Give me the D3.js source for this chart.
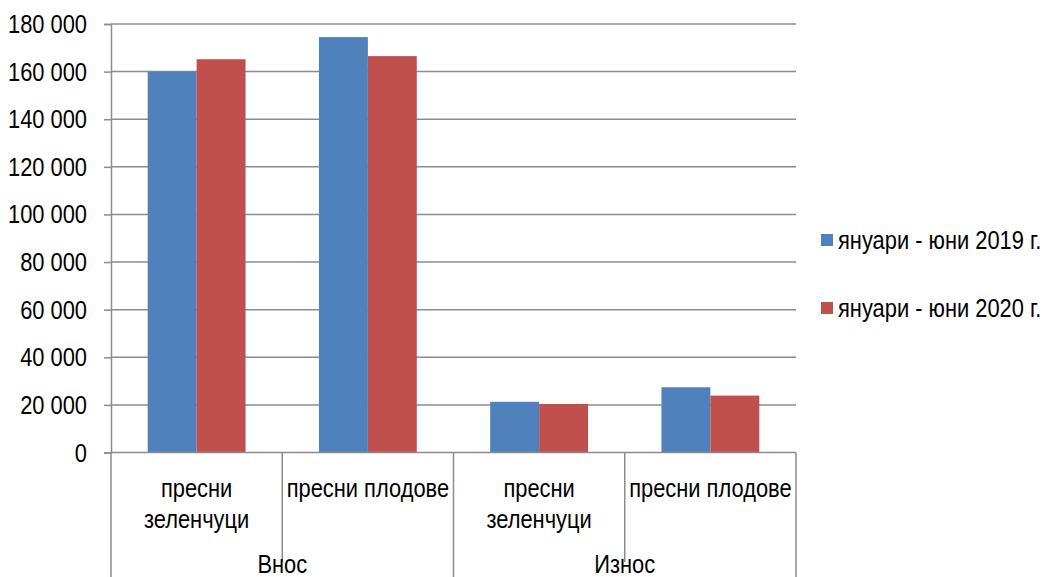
<!DOCTYPE html>
<html><head><meta charset="utf-8">
<script src="https://cdn.jsdelivr.net/npm/d3@7"></script>
<style>body{margin:0;background:#fff}svg{display:block}text{font-family:"Liberation Sans Narrow","Arial Narrow","Liberation Sans",Arial,sans-serif;fill:#000}</style>
</head><body>
<svg id="c" width="1047" height="577"></svg>
<script>
const groups = ["Внос","Износ"];
const categories = [["Внос","пресни зеленчуци"],["Внос","пресни плодове"],["Износ","пресни зеленчуци"],["Износ","пресни плодове"]];
const seriesNames = ["януари - юни 2019 г.","януари - юни 2020 г."];
const s2019 = [160000,174500,21300,27400];
const s2020 = [165200,166500,20400,23900];
const yTicks = [0,20000,40000,60000,80000,100000,120000,140000,160000,180000];
const colors = ["#4f81bd","#c0504d"];

const svg = d3.select("#c");
const L=111,R=796,T=24,B=452.5;
const FS = 25, SX = 0.875;
const x = d3.scaleBand().domain(d3.range(categories.length)).range([L,R]);
const y = d3.scaleLinear().domain([0,180000]).range([B,T]);
const fmt = v => d3.format(",")(v).replace(/,/g," ");

function label(px,py,txt,anchor){
  return svg.append("text").attr("transform",`translate(${px},${py}) scale(${SX},1)`)
    .attr("text-anchor",anchor||"middle").style("font-size",FS+"px").text(txt);
}

// gridlines
svg.append("g").selectAll("line").data(yTicks.filter(d=>d>0)).join("line")
  .attr("x1",L).attr("x2",R).attr("y1",d=>y(d)).attr("y2",d=>y(d))
  .attr("stroke","#8c8c8c").attr("stroke-width",1.5);

// y axis
const ya = svg.append("g").attr("transform",`translate(${L},0)`)
  .call(d3.axisLeft(y).tickValues(yTicks).tickFormat("").tickSize(7));
ya.select(".domain").attr("stroke","#8c8c8c").attr("stroke-width",1.5);
ya.selectAll(".tick line").attr("stroke","#8c8c8c").attr("stroke-width",1.5);
yTicks.forEach(v=>label(87, y(v)+9, fmt(v), "end"));

// bars
const w = x.bandwidth()/3.5;
[s2019,s2020].forEach((s,si)=>{
  svg.append("g").selectAll("rect").data(s).join("rect")
    .attr("x",(d,i)=>x(i)+0.75*w+si*w).attr("width",w)
    .attr("y",d=>y(d)).attr("height",d=>y(0)-y(d))
    .attr("fill",colors[si]);
});

// x axis baseline
svg.append("line").attr("x1",L).attr("x2",R).attr("y1",B).attr("y2",B)
  .attr("stroke","#8c8c8c").attr("stroke-width",1.5);

// separators
const bounds = d3.range(categories.length+1).map(i=> i<categories.length ? x(i) : R);
svg.append("g").selectAll("line").data(bounds).join("line")
  .attr("x1",d=>d).attr("x2",d=>d).attr("y1",B)
  .attr("y2",(d,i)=> (i%2===0) ? 577 : 562)
  .attr("stroke","#8c8c8c").attr("stroke-width",1.5);

// subcategory labels
categories.forEach((c,i)=>{
  const cx = x(i)+x.bandwidth()/2;
  const words = c[1]==="пресни зеленчуци" ? ["пресни","зеленчуци"] : [c[1]];
  words.forEach((wd,j)=> label(cx, 497+j*31, wd));
});
// group labels
groups.forEach((g,gi)=>{
  const cx = (x(gi*2) + (gi*2+2<categories.length ? x(gi*2+2) : R))/2;
  label(cx, 573, g);
});

// legend
seriesNames.forEach((n,i)=>{
  const ly = 240+i*68;
  svg.append("rect").attr("x",821).attr("y",ly-6).attr("width",12).attr("height",12).attr("fill",colors[i]);
  label(838, ly+9, n, "start");
});
</script>
</body></html>
